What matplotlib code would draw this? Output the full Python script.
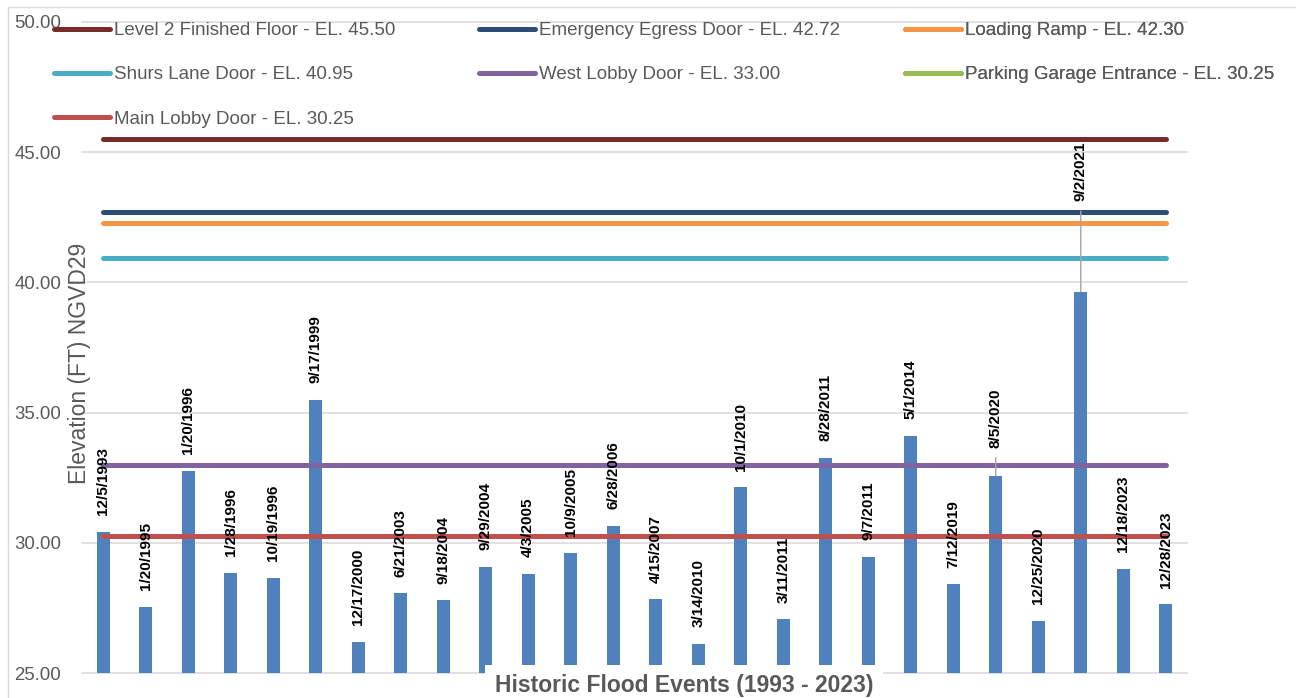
import matplotlib.pyplot as plt
from matplotlib.patches import Rectangle
import numpy as np

plt.rcParams['font.family'] = ['Liberation Sans Narrow', 'Liberation Sans', 'DejaVu Sans']

# peak stage for each recorded flood event
events = ['12/5/1993', '1/20/1995', '1/20/1996', '1/28/1996', '10/19/1996',
          '9/17/1999', '12/17/2000', '6/21/2003', '9/18/2004', '9/29/2004',
          '4/3/2005', '10/9/2005', '6/28/2006', '4/15/2007', '3/14/2010',
          '10/1/2010', '3/11/2011', '8/28/2011', '9/7/2011', '5/1/2014',
          '7/12/2019', '8/5/2020', '12/25/2020', '9/2/2021', '12/18/2023',
          '12/28/2023']
peak_elev = [30.43, 27.55, 32.77, 28.84, 28.66,
             35.48, 26.19, 28.06, 27.79, 29.08,
             28.80, 29.61, 30.65, 27.83, 26.11,
             32.13, 27.06, 33.26, 29.45, 34.11,
             28.41, 32.57, 27.01, 39.64, 28.99,
             27.64]

# building openings / reference elevations
openings = ['Level 2 Finished Floor', 'Emergency Egress Door', 'Loading Ramp',
            'Shurs Lane Door', 'West Lobby Door', 'Parking Garage Entrance',
            'Main Lobby Door']
opening_elev = [45.50, 42.72, 42.30, 40.95, 33.00, 30.25, 30.25]
opening_colors = ['#772C2A', '#2C4D75', '#F79646', '#4BACC6', '#8064A2',
                  '#9BBB59', '#C0504D']

# a few labels were pulled up and get a leader line
label_lift = {'8/5/2020': 20, '9/2/2021': 65}

grey = '#595959'
grid_c = '#D9D9D9'

fig = plt.figure(figsize=(12.96, 6.98), dpi=100)
ax = fig.add_axes([82 / 1296, 25 / 698, 1105 / 1296, 651 / 698])

x = np.arange(len(events))
ax.bar(x, peak_elev, width=0.31, color='#4F81BD', zorder=1)

yticks = np.arange(25, 51, 5)
for t in yticks:
    ax.axhline(t, color=grid_c, lw=1.1, zorder=0.5, clip_on=False)

lines = []
for name, elev, c in zip(openings, opening_elev, opening_colors):
    ln, = ax.plot([x[0], x[-1]], [elev, elev], color=c, lw=3.6,
                  solid_capstyle='round', zorder=2,
                  label=f'{name} - EL. {elev:.2f}')
    lines.append(ln)

for xi, name, v in zip(x, events, peak_elev):
    if name in label_lift:
        ax.annotate(name, xy=(xi, v), xytext=(0, label_lift[name]),
                    textcoords='offset points', rotation=90, ha='center',
                    va='bottom', fontsize=11, fontweight='bold',
                    family='Liberation Sans', zorder=3,
                    arrowprops=dict(arrowstyle='-', color='#A6A6A6', lw=1.0,
                                    shrinkA=5, shrinkB=0))
    else:
        ax.annotate(name, xy=(xi, v), xytext=(0, 12),
                    textcoords='offset points', rotation=90, ha='center',
                    va='bottom', fontsize=11, fontweight='bold',
                    family='Liberation Sans', zorder=3)

ax.set_xlim(-0.5, len(events) - 0.5)
ax.set_ylim(25, 50)
ax.set_yticks(yticks)
ax.set_yticklabels([f'{t:.2f}' for t in yticks], family='Liberation Sans',
                   fontsize=13.4, color=grey)
ax.tick_params(axis='y', length=0, pad=15)
ax.set_xticks([])
for s in ax.spines.values():
    s.set_visible(False)

ax.set_ylabel('Elevation (FT) NGVD29', fontsize=16.5, color=grey, va='center')
ax.yaxis.set_label_coords(-0.002, 0.475)

ax.set_xlabel('Historic Flood Events (1993 - 2023)', fontsize=16.5,
              fontweight='bold', color=grey,
              bbox=dict(facecolor='white', edgecolor='none', pad=7))
ax.xaxis.set_label_coords(0.545, -0.002)

# legend laid out as three columns across the top
columns = [[0, 3, 6], [1, 4], [2, 5]]
col_x = [54, 479, 905]
for idx, cx in zip(columns, col_x):
    leg = ax.legend([lines[i] for i in idx], [lines[i].get_label() for i in idx],
                    loc='upper left', bbox_to_anchor=(cx / 1296, 1 - 22 / 698),
                    bbox_transform=fig.transFigure, frameon=False,
                    borderpad=0, borderaxespad=0, handlelength=3.0,
                    handletextpad=0.22, labelspacing=1.45, fontsize=13.5,
                    labelcolor=grey)
    ax.add_artist(leg)

# chart area border
fig.patches.append(Rectangle((8 / 1296, -0.1), 1.2, 1.1 - 7 / 698,
                             transform=fig.transFigure, fill=False,
                             edgecolor=grid_c, lw=1.0))

fig.savefig('out.png', dpi=100)
